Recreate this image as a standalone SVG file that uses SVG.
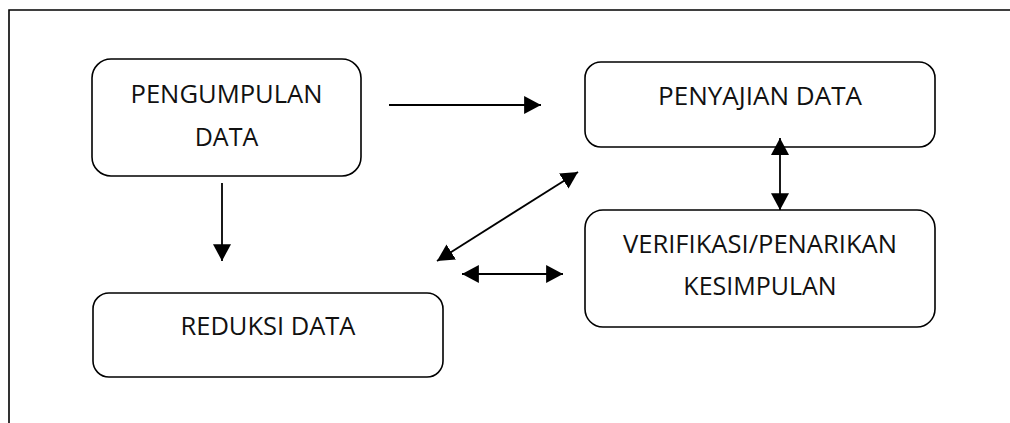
<svg xmlns="http://www.w3.org/2000/svg" width="1010" height="423" viewBox="0 0 1010 423">
  <style>
    .box { fill: #ffffff; stroke: #000000; stroke-width: 1.6; }
    .lbl { font-family: "Open Sans", "Liberation Sans", sans-serif; font-size: 25px; fill: #111111; text-anchor: middle; }
    .conn { stroke: #000000; stroke-width: 1.8; fill: none; }
    .frame { stroke: #000000; stroke-width: 1.6; fill: none; }
  </style>
  <defs>
    <marker id="head" markerUnits="userSpaceOnUse" markerWidth="18" markerHeight="18" refX="15" refY="8" orient="auto-start-reverse" viewBox="0 0 16 16">
      <path d="M0,0 L15,8 L0,16 Z" fill="#000000"/>
    </marker>
  </defs>
  <rect width="1010" height="423" fill="#ffffff"/>
  <path class="frame" d="M9,423 L9,10 L1010,10"/>

  <g id="pengumpulan-data">
    <rect class="box" x="92" y="59" width="269" height="117" rx="19"/>
    <text class="lbl" x="226.5" y="103" textLength="192" lengthAdjust="spacingAndGlyphs">PENGUMPULAN</text>
    <text class="lbl" x="226.5" y="146">DATA</text>
  </g>
  <g id="penyajian-data">
    <rect class="box" x="585" y="62" width="350" height="85" rx="16"/>
    <text class="lbl" x="760" y="105" textLength="204" lengthAdjust="spacingAndGlyphs">PENYAJIAN DATA</text>
  </g>
  <g id="verifikasi">
    <rect class="box" x="585" y="210" width="350" height="117" rx="18"/>
    <text class="lbl" x="760" y="253" textLength="274" lengthAdjust="spacingAndGlyphs">VERIFIKASI/PENARIKAN</text>
    <text class="lbl" x="760" y="295">KESIMPULAN</text>
  </g>
  <g id="reduksi-data">
    <rect class="box" x="93" y="293" width="350" height="84" rx="16"/>
    <text class="lbl" x="268" y="335" textLength="175" lengthAdjust="spacingAndGlyphs">REDUKSI DATA</text>
  </g>

  <g id="connectors">
    <line class="conn" x1="389" y1="105" x2="541" y2="105" marker-end="url(#head)"/>
    <line class="conn" x1="222" y1="183" x2="222" y2="261" marker-end="url(#head)"/>
    <line class="conn" x1="780" y1="138" x2="780" y2="210" marker-start="url(#head)" marker-end="url(#head)"/>
    <line class="conn" x1="437" y1="261" x2="578" y2="172" marker-start="url(#head)" marker-end="url(#head)"/>
    <line class="conn" x1="462" y1="274" x2="563" y2="274" marker-start="url(#head)" marker-end="url(#head)"/>
  </g>
</svg>
